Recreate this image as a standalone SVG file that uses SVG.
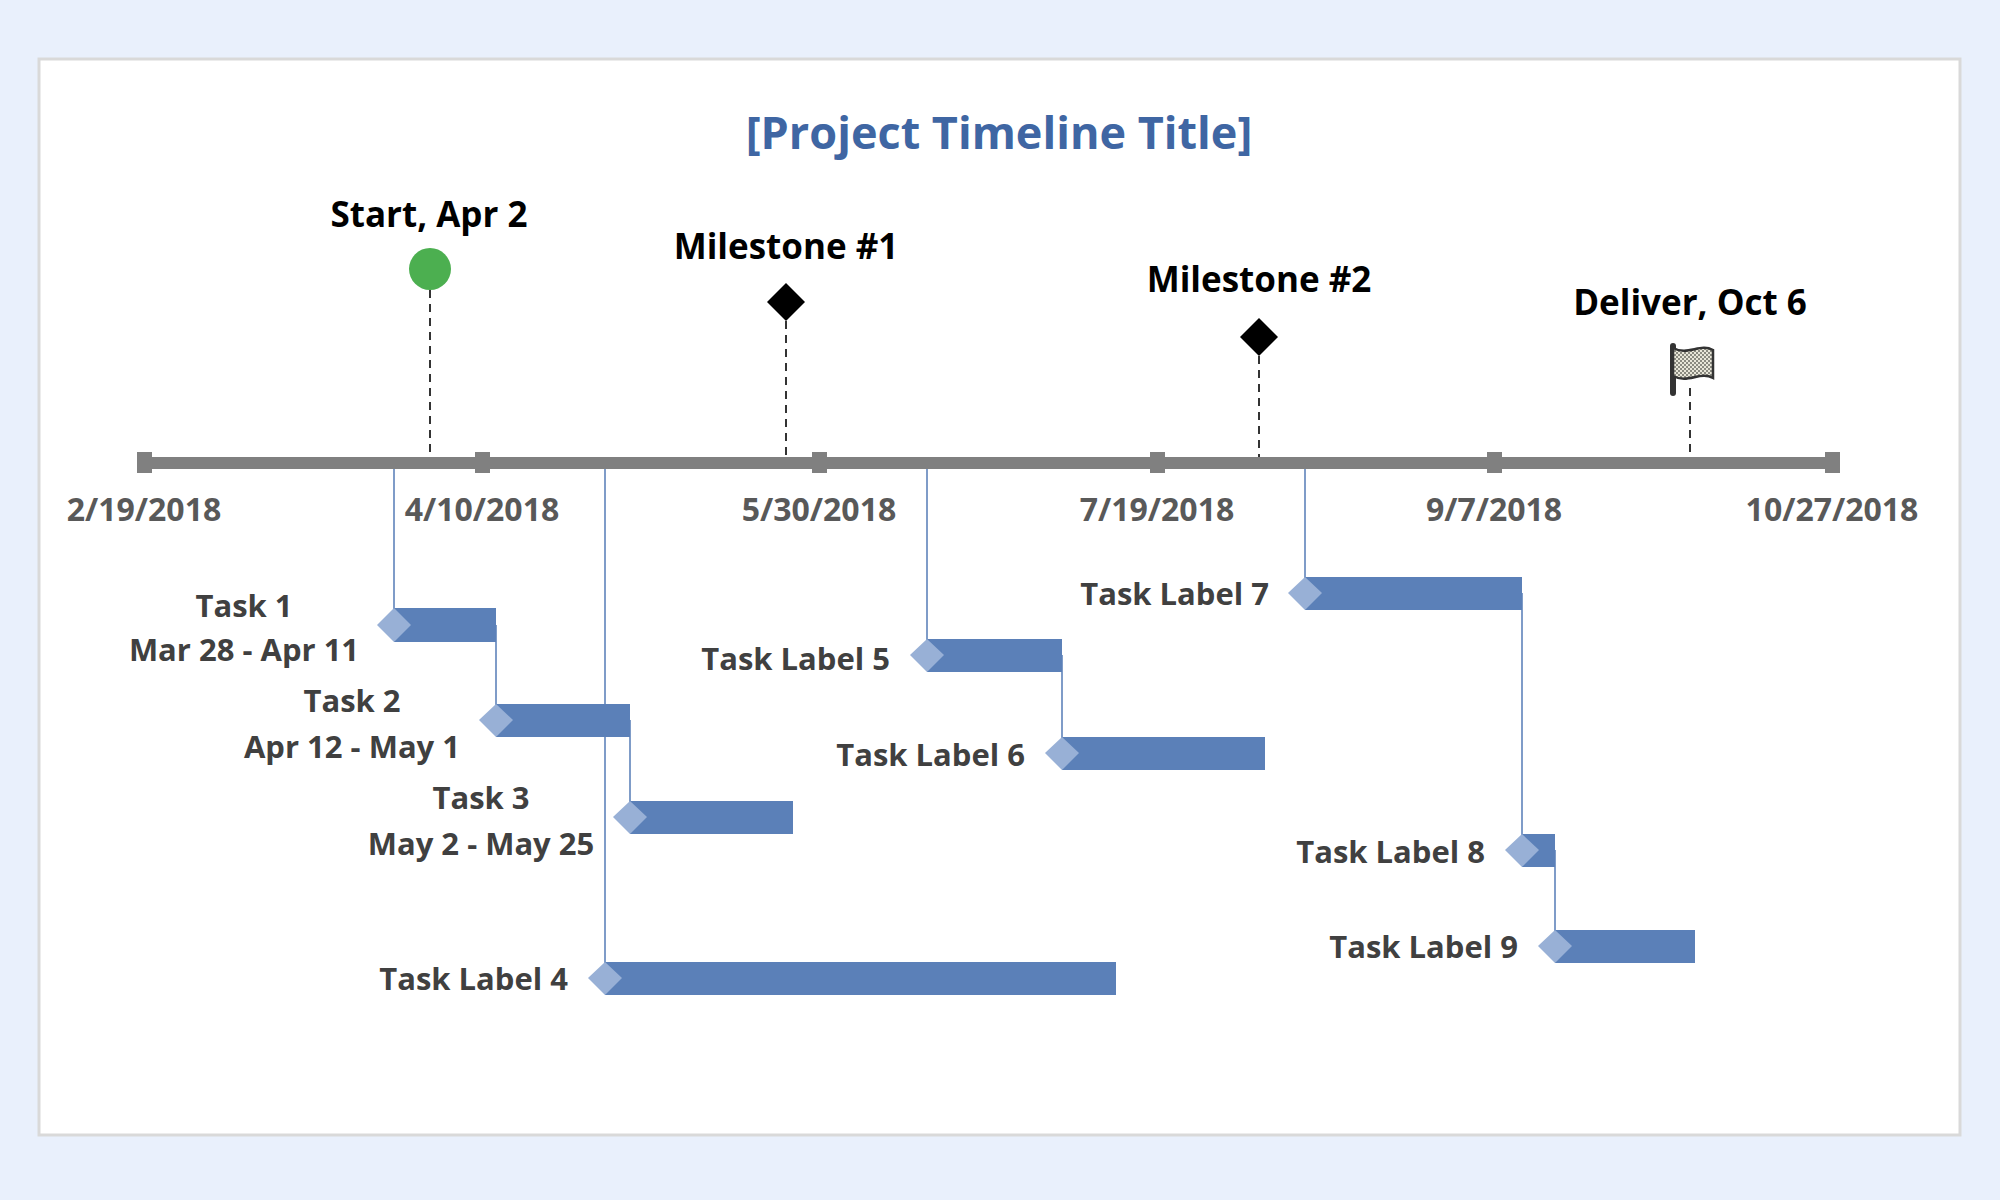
<svg xmlns="http://www.w3.org/2000/svg" width="2000" height="1200" viewBox="0 0 2000 1200">
<defs>
<style>
.t{font-family:"Open Sans","Liberation Sans",sans-serif;font-weight:bold;dominant-baseline:central}
.date{font-size:32px;fill:#595959;text-anchor:middle}
.ms{font-size:35px;fill:#000;text-anchor:middle}
.tl{font-size:31px;fill:#404040}
.bar{fill:#5b80b8}
.dia{fill:#98b0d6}
.con{stroke:#7f9cc8;stroke-width:2;fill:none}
.dash{stroke:#333;stroke-width:2;stroke-dasharray:8 6}
.tick{fill:#808080}
</style>
<pattern id="chk" width="4" height="4" patternUnits="userSpaceOnUse"><rect width="4" height="4" fill="#e8e6d8"/><rect width="2" height="2" fill="#8a8a80"/><rect x="2" y="2" width="2" height="2" fill="#8a8a80"/></pattern>
</defs>
<rect width="2000" height="1200" fill="#e9f0fc"/>
<rect x="39" y="59" width="1921" height="1076" fill="#fff" stroke="#d9d9d9" stroke-width="3"/>
<text class="t" x="999" y="131" font-size="45" fill="#3f66a3" text-anchor="middle">[Project Timeline Title]</text>
<g id="connectors">
<line class="dash" x1="430" y1="290" x2="430" y2="463"/>
<line class="dash" x1="786" y1="321" x2="786" y2="463"/>
<line class="dash" x1="1259" y1="356" x2="1259" y2="463"/>
<line class="dash" x1="1690" y1="388" x2="1690" y2="463"/>
<path class="con" d="M394 463V625"/>
<path class="con" d="M496 625V720"/>
<path class="con" d="M630 720V817"/>
<path class="con" d="M605 463V978"/>
<path class="con" d="M927 463V655"/>
<path class="con" d="M1062 655V753"/>
<path class="con" d="M1305 463V593"/>
<path class="con" d="M1522 593V850"/>
<path class="con" d="M1555 850V946"/>
</g>
<g id="axis">
<rect x="144" y="457" width="1689" height="12" fill="#808080"/>
<rect class="tick" x="137" y="452" width="15" height="21"/>
<rect class="tick" x="475" y="452" width="15" height="21"/>
<rect class="tick" x="812" y="452" width="15" height="21"/>
<rect class="tick" x="1150" y="452" width="15" height="21"/>
<rect class="tick" x="1487" y="452" width="15" height="21"/>
<rect class="tick" x="1825" y="452" width="15" height="21"/>
<text class="t date" x="144" y="508">2/19/2018</text>
<text class="t date" x="482" y="508">4/10/2018</text>
<text class="t date" x="819" y="508">5/30/2018</text>
<text class="t date" x="1157" y="508">7/19/2018</text>
<text class="t date" x="1494" y="508">9/7/2018</text>
<text class="t date" x="1832" y="508">10/27/2018</text>
</g>
<g id="start"><circle cx="430" cy="269" r="21" fill="#4caf50"/><text class="t ms" x="429" y="213">Start, Apr 2</text></g>
<g id="milestone1"><path d="M786 283L805 302L786 321L767 302Z" fill="#000"/><text class="t ms" x="786" y="245">Milestone #1</text></g>
<g id="milestone2"><path d="M1259 318L1278 337L1259 356L1240 337Z" fill="#000"/><text class="t ms" x="1259" y="278">Milestone #2</text></g>
<g id="deliver">
<text class="t ms" x="1690" y="301">Deliver, Oct 6</text>
<path d="M1673 346V393" stroke="#333" stroke-width="6" stroke-linecap="round"/>
<path d="M1673 348C1688 356 1700 343 1713 350V378C1700 371 1688 384 1673 376Z" fill="url(#chk)" stroke="#333" stroke-width="2.5"/>
</g>
<g id="task1"><rect class="bar" x="394" y="608" width="102" height="34"/><path class="dia" d="M394 608L411 625L394 642L377 625Z"/><text class="t tl" x="244" y="605" text-anchor="middle">Task 1</text><text class="t tl" x="244" y="649" text-anchor="middle">Mar 28 - Apr 11</text></g>
<g id="task2"><rect class="bar" x="496" y="704" width="134" height="33"/><path class="dia" d="M496 704L513 720L496 737L479 720Z"/><text class="t tl" x="352" y="700" text-anchor="middle">Task 2</text><text class="t tl" x="352" y="746" text-anchor="middle">Apr 12 - May 1</text></g>
<g id="task3"><rect class="bar" x="630" y="801" width="163" height="33"/><path class="dia" d="M630 801L647 817L630 834L613 817Z"/><text class="t tl" x="481" y="797" text-anchor="middle">Task 3</text><text class="t tl" x="481" y="843" text-anchor="middle">May 2 - May 25</text></g>
<g id="task4"><rect class="bar" x="605" y="962" width="511" height="33"/><path class="dia" d="M605 962L622 978L605 995L588 978Z"/><text class="t tl" x="568" y="978" text-anchor="end">Task Label 4</text></g>
<g id="task5"><rect class="bar" x="927" y="639" width="135" height="33"/><path class="dia" d="M927 639L944 655L927 672L910 655Z"/><text class="t tl" x="890" y="658" text-anchor="end">Task Label 5</text></g>
<g id="task6"><rect class="bar" x="1062" y="737" width="203" height="33"/><path class="dia" d="M1062 737L1079 753L1062 770L1045 753Z"/><text class="t tl" x="1025" y="754" text-anchor="end">Task Label 6</text></g>
<g id="task7"><rect class="bar" x="1305" y="577" width="217" height="33"/><path class="dia" d="M1305 577L1322 593L1305 610L1288 593Z"/><text class="t tl" x="1269" y="593" text-anchor="end">Task Label 7</text></g>
<g id="task8"><rect class="bar" x="1522" y="834" width="33" height="33"/><path class="dia" d="M1522 834L1539 850L1522 867L1505 850Z"/><text class="t tl" x="1485" y="851" text-anchor="end">Task Label 8</text></g>
<g id="task9"><rect class="bar" x="1555" y="930" width="140" height="33"/><path class="dia" d="M1555 930L1572 946L1555 963L1538 946Z"/><text class="t tl" x="1518" y="946" text-anchor="end">Task Label 9</text></g>
</svg>
